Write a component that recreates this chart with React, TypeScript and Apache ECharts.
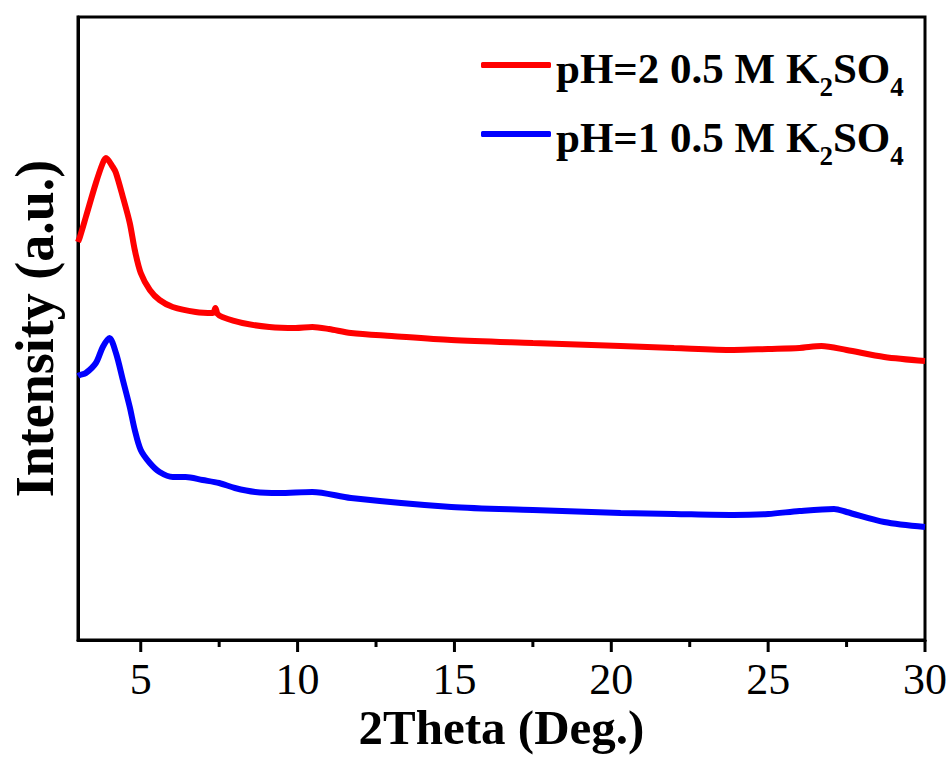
import React, { useEffect, useRef } from "react";
import * as echarts from "echarts";

const redX = [3.0, 3.06, 3.25, 3.57, 3.79, 3.89, 4.11, 4.21, 4.43, 4.65, 4.81, 5.0, 5.29, 5.6, 6.02, 6.75, 7.3, 7.38, 7.45, 7.6, 8.24, 9.1, 9.93, 10.47, 11.0, 11.7, 13.0, 14.9, 17.5, 20.3, 22.0, 23.9, 25.0, 26.0, 26.7, 27.5, 28.7, 30.0];
const redY = [398, 403, 423, 457, 477, 482, 473, 467, 443, 417, 390, 367, 350, 340, 333, 328, 327, 332, 326, 323, 317, 313, 312, 313, 311, 307, 304, 300, 297, 294, 292, 290, 291, 292, 294, 290, 283, 279];

const blueX = [3.0, 3.06, 3.25, 3.57, 3.79, 4.0, 4.21, 4.43, 4.65, 4.81, 5.0, 5.29, 5.6, 6.02, 6.43, 6.97, 7.5, 8.0, 8.65, 9.4, 10.47, 11.7, 14.9, 17.5, 20.3, 22.0, 23.9, 25.0, 26.0, 27.1, 27.5, 28.7, 30.0];
const blueY = [264, 265, 267, 277, 293, 302, 287, 260, 233, 210, 190, 177, 168, 163, 163, 160, 157, 152, 148, 147, 148, 142, 133, 130, 127, 126, 125, 126, 129, 131, 128, 118, 113];

const seriesNames = ["pH=2 0.5 M K2SO4", "pH=1 0.5 M K2SO4"];
const legendMain = ["pH=2 0.5 M K", "pH=1 0.5 M K"];
const majorTicks = [5, 10, 15, 20, 25, 30];
const minorTicks = [7.5, 12.5, 17.5, 22.5, 27.5];
const xTitle = "2Theta (Deg.)";
const yTitle = "Intensity (a.u.)";

const FONT = "'Liberation Serif', 'Times New Roman', serif";

export default function App() {
  const ref = useRef<HTMLDivElement>(null);
  useEffect(() => {
    if (!ref.current) return;
    const chart = echarts.init(ref.current, undefined, { renderer: "svg" });
    const zip = (xs: number[], ys: number[]) => xs.map((x, i) => [x, ys[i]]);
    chart.setOption({
      animation: false,
      backgroundColor: "#fff",
      grid: { left: 76, right: 27, top: 17, bottom: 121, show: true, borderColor: "#000", borderWidth: 3, backgroundColor: "transparent" },
      legend: {
        orient: "vertical",
        left: 481,
        top: 47,
        padding: 0,
        itemWidth: 70,
        itemHeight: 6,
        itemGap: 16,
        icon: "roundRect",
        data: seriesNames,
        formatter: (name: string) => {
          const i = seriesNames.indexOf(name);
          return `{m|${legendMain[i]}}{s|2}{m|SO}{s|4}`;
        },
        textStyle: {
          rich: {
            m: { fontFamily: FONT, fontWeight: "bold", fontSize: 43, color: "#000", lineHeight: 50, verticalAlign: "bottom" },
            s: { fontFamily: FONT, fontWeight: "bold", fontSize: 27, color: "#000", lineHeight: 50, verticalAlign: "bottom", padding: [0, 0, -10, 0] },
          },
        },
      },
      xAxis: {
        type: "value",
        min: 3,
        max: 30,
        name: xTitle,
        nameLocation: "middle",
        nameGap: 63,
        nameMoveOverlap: false,
        nameTextStyle: { fontFamily: FONT, fontWeight: "bold", fontSize: 49, color: "#000" },
        axisLine: { show: true, onZero: false, lineStyle: { color: "#000", width: 3 } },
        axisTick: { show: false },
        axisLabel: { show: true, fontFamily: FONT, fontSize: 44, color: "#000", margin: 17, customValues: majorTicks },
        splitLine: { show: false },
      },
      yAxis: {
        type: "value",
        min: 0,
        max: 623,
        name: yTitle,
        nameLocation: "middle",
        nameGap: 16,
        nameMoveOverlap: false,
        nameTextStyle: { fontFamily: FONT, fontWeight: "bold", fontSize: 54, color: "#000" },
        axisLine: { show: true, lineStyle: { color: "#000", width: 3 } },
        axisTick: { show: false },
        axisLabel: { show: false },
        splitLine: { show: false },
      },
      series: [
        { name: seriesNames[0], type: "line", data: zip(redX, redY), showSymbol: false, smooth: 0.3, lineStyle: { color: "#ff0000", width: 6 }, itemStyle: { color: "#ff0000" } },
        { name: seriesNames[1], type: "line", data: zip(blueX, blueY), showSymbol: false, smooth: 0.3, lineStyle: { color: "#0000ff", width: 6 }, itemStyle: { color: "#0000ff" } },
      ],
    });
    const y0 = chart.convertToPixel({ yAxisIndex: 0 }, 0) as number;
    const mk = (v: number, len: number) => {
      const px = chart.convertToPixel({ xAxisIndex: 0 }, v) as number;
      return { type: "line", shape: { x1: px, y1: y0, x2: px, y2: y0 + len }, style: { stroke: "#000", lineWidth: 3 }, silent: true };
    };
    chart.setOption({
      graphic: [...majorTicks.map((v) => mk(v, 12)), ...minorTicks.map((v) => mk(v, 7))],
    });
    return () => chart.dispose();
  }, []);
  return <div ref={ref} style={{ width: 952, height: 761, position: "absolute", left: 0, top: 0 }} />;
}
